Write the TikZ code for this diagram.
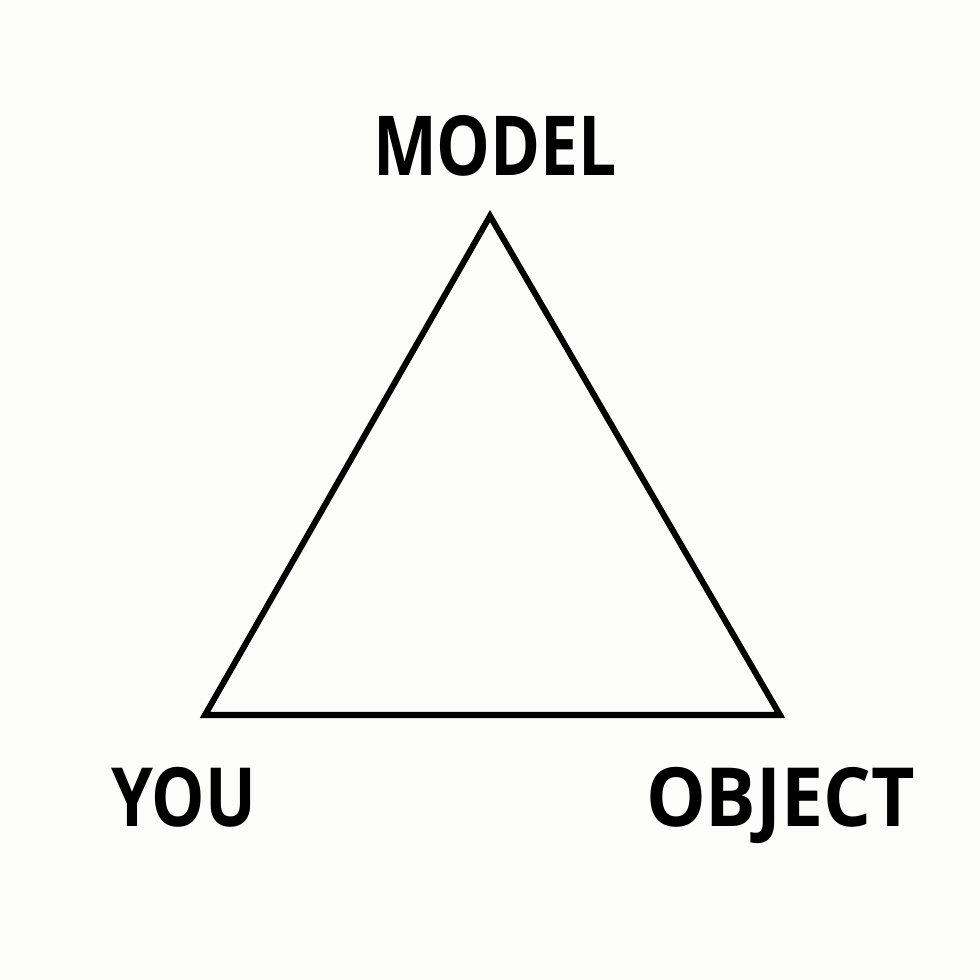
\documentclass[tikz,border=0pt]{standalone}
\usepackage{fontspec}
\setmainfont{Open Sans}
\usepackage{graphicx}
\definecolor{bg}{HTML}{FCFCFB}
\begin{document}
\begin{tikzpicture}[x=0.025cm,y=-0.025cm,
  lbl/.style={anchor=base west,inner sep=0pt,outer sep=0pt},
  edge/.style={line width=4.3pt,line join=miter,black}]
\fill[bg] (0,0) rectangle (980,980);
\useasboundingbox (0,0) rectangle (980,980);
\coordinate (top) at (490,216);
\coordinate (bl) at (205,715);
\coordinate (br) at (780,715);
\draw[edge] (top) -- (bl) -- (br) -- cycle;
\node[lbl] (model) at (373,175) {\resizebox{6.1cm}{1.5cm}{\bfseries MODEL}};
\node[lbl] (you) at (111,826) {\resizebox{3.62cm}{1.48cm}{\bfseries YOU}};
\node[lbl] (object) at (646,826) {\resizebox{6.72cm}{1.48cm}{\bfseries OBJECT}};
\end{tikzpicture}
\end{document}
